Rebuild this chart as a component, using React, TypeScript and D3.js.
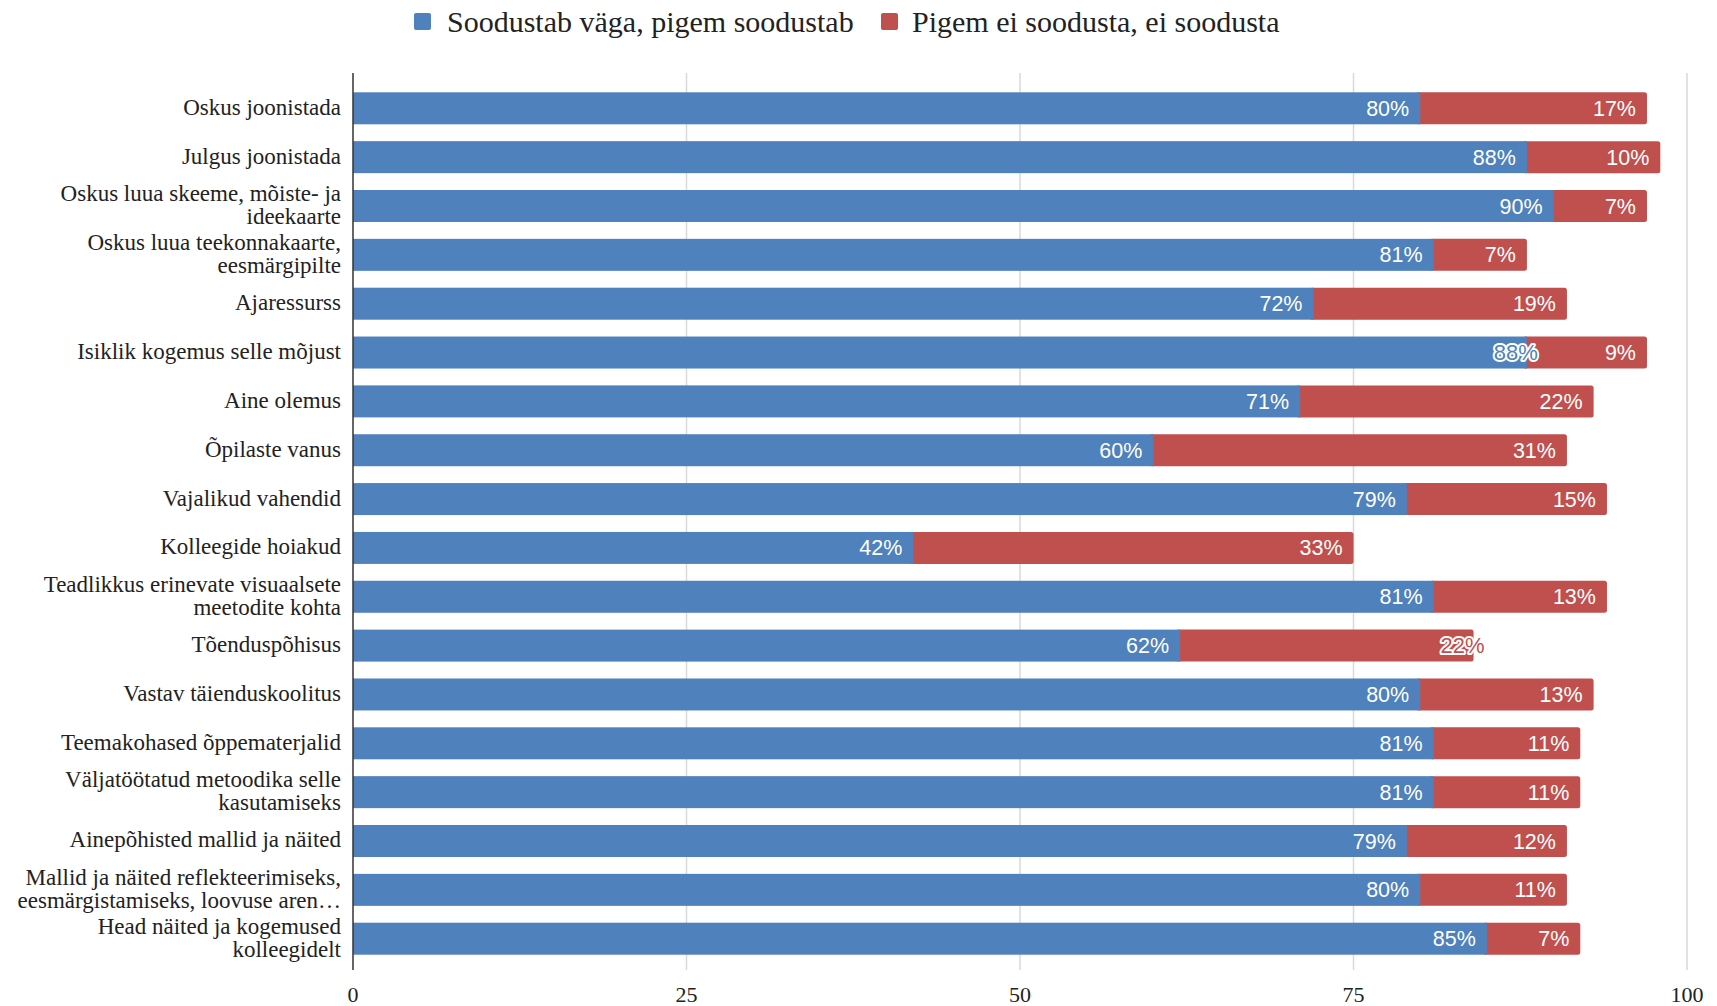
import React from "react";
import * as d3 from "d3";

const categories: string[] = [
  "Oskus joonistada",
  "Julgus joonistada",
  "Oskus luua skeeme, mõiste- ja\nideekaarte",
  "Oskus luua teekonnakaarte,\neesmärgipilte",
  "Ajaressurss",
  "Isiklik kogemus selle mõjust",
  "Aine olemus",
  "Õpilaste vanus",
  "Vajalikud vahendid",
  "Kolleegide hoiakud",
  "Teadlikkus erinevate visuaalsete\nmeetodite kohta",
  "Tõenduspõhisus",
  "Vastav täienduskoolitus",
  "Teemakohased õppematerjalid",
  "Väljatöötatud metoodika selle\nkasutamiseks",
  "Ainepõhisted mallid ja näited",
  "Mallid ja näited reflekteerimiseks,\neesmärgistamiseks, loovuse aren…",
  "Head näited ja kogemused\nkolleegidelt",
];

const positive: number[] = [80, 88, 90, 81, 72, 88, 71, 60, 79, 42, 81, 62, 80, 81, 81, 79, 80, 85];
const negative: number[] = [17, 10, 7, 7, 19, 9, 22, 31, 15, 33, 13, 22, 13, 11, 11, 12, 11, 7];

const seriesNames: string[] = ["Soodustab väga, pigem soodustab", "Pigem ei soodusta, ei soodusta"];
const xTicks: number[] = [0, 25, 50, 75, 100];

// labels drawn with an outline (overlap style in the original)
const outlinedLabels = new Set<string>(["pos-5", "neg-11"]);

const BLUE = "#4F81BD";
const RED = "#C0504D";
const W = 1717;
const H = 1006;

export default function App() {
  const x = d3.scaleLinear().domain([0, 100]).range([353, 1687]);
  const y = d3
    .scaleBand<number>()
    .domain(d3.range(categories.length))
    .range([84, 963])
    .paddingInner(0.345)
    .paddingOuter(0.17);
  const bh = y.bandwidth();
  const serif = "'Liberation Serif', 'Times New Roman', serif";
  const sans = "'Liberation Sans', Arial, sans-serif";

  const dataLabel = (key: string, value: number, end: number, cy: number, fill: string) => {
    const outlined = outlinedLabels.has(key);
    return (
      <text
        key={key}
        x={outlined ? end + 11 : end - 11}
        y={cy}
        dy="0.35em"
        textAnchor="end"
        fontFamily={sans}
        fontSize={outlined ? 22 : 21.5}
        fill={outlined ? fill : "#fff"}
        stroke={outlined ? "#fff" : "none"}
        strokeWidth={outlined ? 4 : 0}
        strokeLinejoin="round"
        style={{ paintOrder: "stroke" }}
      >
        {value}%
      </text>
    );
  };

  return (
    <svg width={W} height={H} style={{ position: "absolute", left: 0, top: 0, background: "#fff" }}>
      {/* legend */}
      <g>
        <rect x={414} y={13} width={17} height={17} rx={2} fill={BLUE} />
        <text x={447} y={21} dy="0.35em" fontFamily={serif} fontSize={30} fill="#222">
          {seriesNames[0]}
        </text>
        <rect x={881} y={13} width={17} height={17} rx={2} fill={RED} />
        <text x={912} y={21} dy="0.35em" fontFamily={serif} fontSize={30} fill="#222">
          {seriesNames[1]}
        </text>
      </g>

      {/* gridlines */}
      {xTicks.filter((t) => t > 0).map((t) => (
        <line key={t} x1={x(t)} x2={x(t)} y1={73} y2={970} stroke="#d9d9d9" strokeWidth={1.5} />
      ))}

      {/* bars */}
      {categories.map((c, i) => {
        const y0 = y(i) as number;
        const p = positive[i];
        const n = negative[i];
        return (
          <g key={"bar" + i}>
            <rect x={x(p) - 4} y={y0} width={x(p + n) - x(p) + 4} height={bh} rx={2.5} fill={RED} />
            <rect x={x(0)} y={y0} width={x(p) - x(0)} height={bh} fill={BLUE} />
          </g>
        );
      })}

      {/* data labels */}
      {categories.map((c, i) => {
        const cy = (y(i) as number) + bh / 2;
        const p = positive[i];
        const n = negative[i];
        return (
          <g key={"lab" + i}>
            {dataLabel("pos-" + i, p, x(p), cy, BLUE)}
            {dataLabel("neg-" + i, n, x(p + n), cy, RED)}
          </g>
        );
      })}

      {/* axis line */}
      <line x1={x(0)} x2={x(0)} y1={73} y2={970} stroke="#333" strokeWidth={1.5} />

      {/* category labels */}
      {categories.map((c, i) => {
        const cy = (y(i) as number) + bh / 2;
        const lines = c.split("\n");
        const lh = 23;
        const start = cy - ((lines.length - 1) * lh) / 2;
        return (
          <text key={"cat" + i} textAnchor="end" fontFamily={serif} fontSize={23} fill="#222">
            {lines.map((l, k) => (
              <tspan key={k} x={341} y={start + k * lh} dy="0.28em">
                {l}
              </tspan>
            ))}
          </text>
        );
      })}

      {/* x tick labels */}
      {xTicks.map((t) => (
        <text key={"t" + t} x={x(t)} y={994} dy="0.35em" textAnchor="middle" fontFamily={serif} fontSize={22} fill="#222">
          {t}
        </text>
      ))}
    </svg>
  );
}
